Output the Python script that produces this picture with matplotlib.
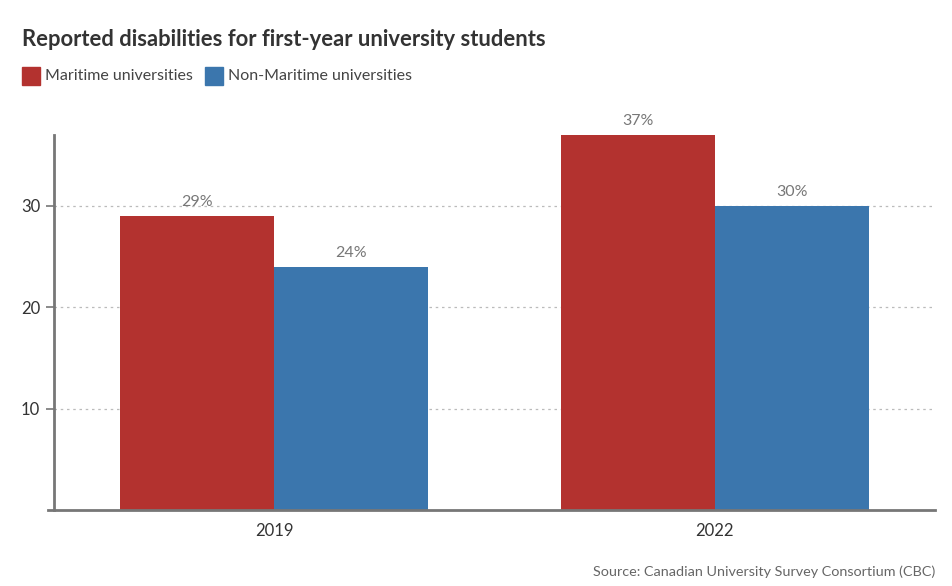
import matplotlib
matplotlib.use("Agg")
import matplotlib.pyplot as plt
from matplotlib.patches import Rectangle

years = ["2019", "2022"]
maritime = [29, 37]
non_maritime = [24, 30]
series_names = ["Maritime universities", "Non-Maritime universities"]
colors = ["#b3322f", "#3b76ad"]
yticks = [10, 20, 30]

plt.rcParams['font.family'] = ['Lato', 'DejaVu Sans']

W, H = 953, 586
fig = plt.figure(figsize=(W / 100, H / 100), dpi=100)
ax = fig.add_axes([54 / W, 1 - 510 / H, (935 - 54) / W, (510 - 135) / H])

x = list(range(len(years)))
bw = 0.35
for i, (vals, c) in enumerate([(maritime, colors[0]), (non_maritime, colors[1])]):
    off = (i - 0.5) * bw
    bars = ax.bar([xi + off for xi in x], vals, width=bw, color=c, zorder=2)
    for b, v in zip(bars, vals):
        ax.text(b.get_x() + b.get_width() / 2, v + 0.65, f"{v}%", ha='center', va='bottom',
                fontsize=11.5, color='#777777', zorder=3)

ax.set_xlim(-0.5, 1.5)
ax.set_ylim(0, 37)
ax.set_yticks(yticks)
ax.set_xticks(x)
ax.set_xticklabels(years)
ax.yaxis.grid(True, linestyle=(0, (2, 3)), color='#bbbbbb', linewidth=0.9, zorder=1)
for s in ['top', 'right']:
    ax.spines[s].set_visible(False)
ax.spines['left'].set_color('#777777')
ax.spines['left'].set_linewidth(2)
ax.spines['bottom'].set_color('#777777')
ax.spines['bottom'].set_linewidth(2)
ax.spines['bottom'].set_bounds(-0.5 - 6 / 440.5, 1.5)
ax.tick_params(axis='y', length=6, width=1.2, color='#777777', labelsize=12, labelcolor='#333333', pad=4)
ax.tick_params(axis='x', length=0, labelsize=12, labelcolor='#333333', pad=9)

fig.text(22 / W, 1 - 40 / H, "Reported disabilities for first-year university students",
         fontsize=15.8, fontweight='bold', color='#333333', va='center', ha='left')

lx = 22
for name, c in zip(series_names, colors):
    fig.patches.append(Rectangle((lx / W, 1 - 85 / H), 18 / W, 18 / H, transform=fig.transFigure,
                                 color=c, figure=fig))
    t = fig.text((lx + 23) / W, 1 - 76 / H, name, fontsize=11.5, color='#444444', va='center', ha='left')
    fig.canvas.draw()
    bb = t.get_window_extent()
    lx = bb.x1 + 12

fig.text(935 / W, 1 - 572 / H, "Source: Canadian University Survey Consortium (CBC)",
         fontsize=10.4, color='#666666', ha='right', va='center')

fig.savefig("out.png", dpi=100)
